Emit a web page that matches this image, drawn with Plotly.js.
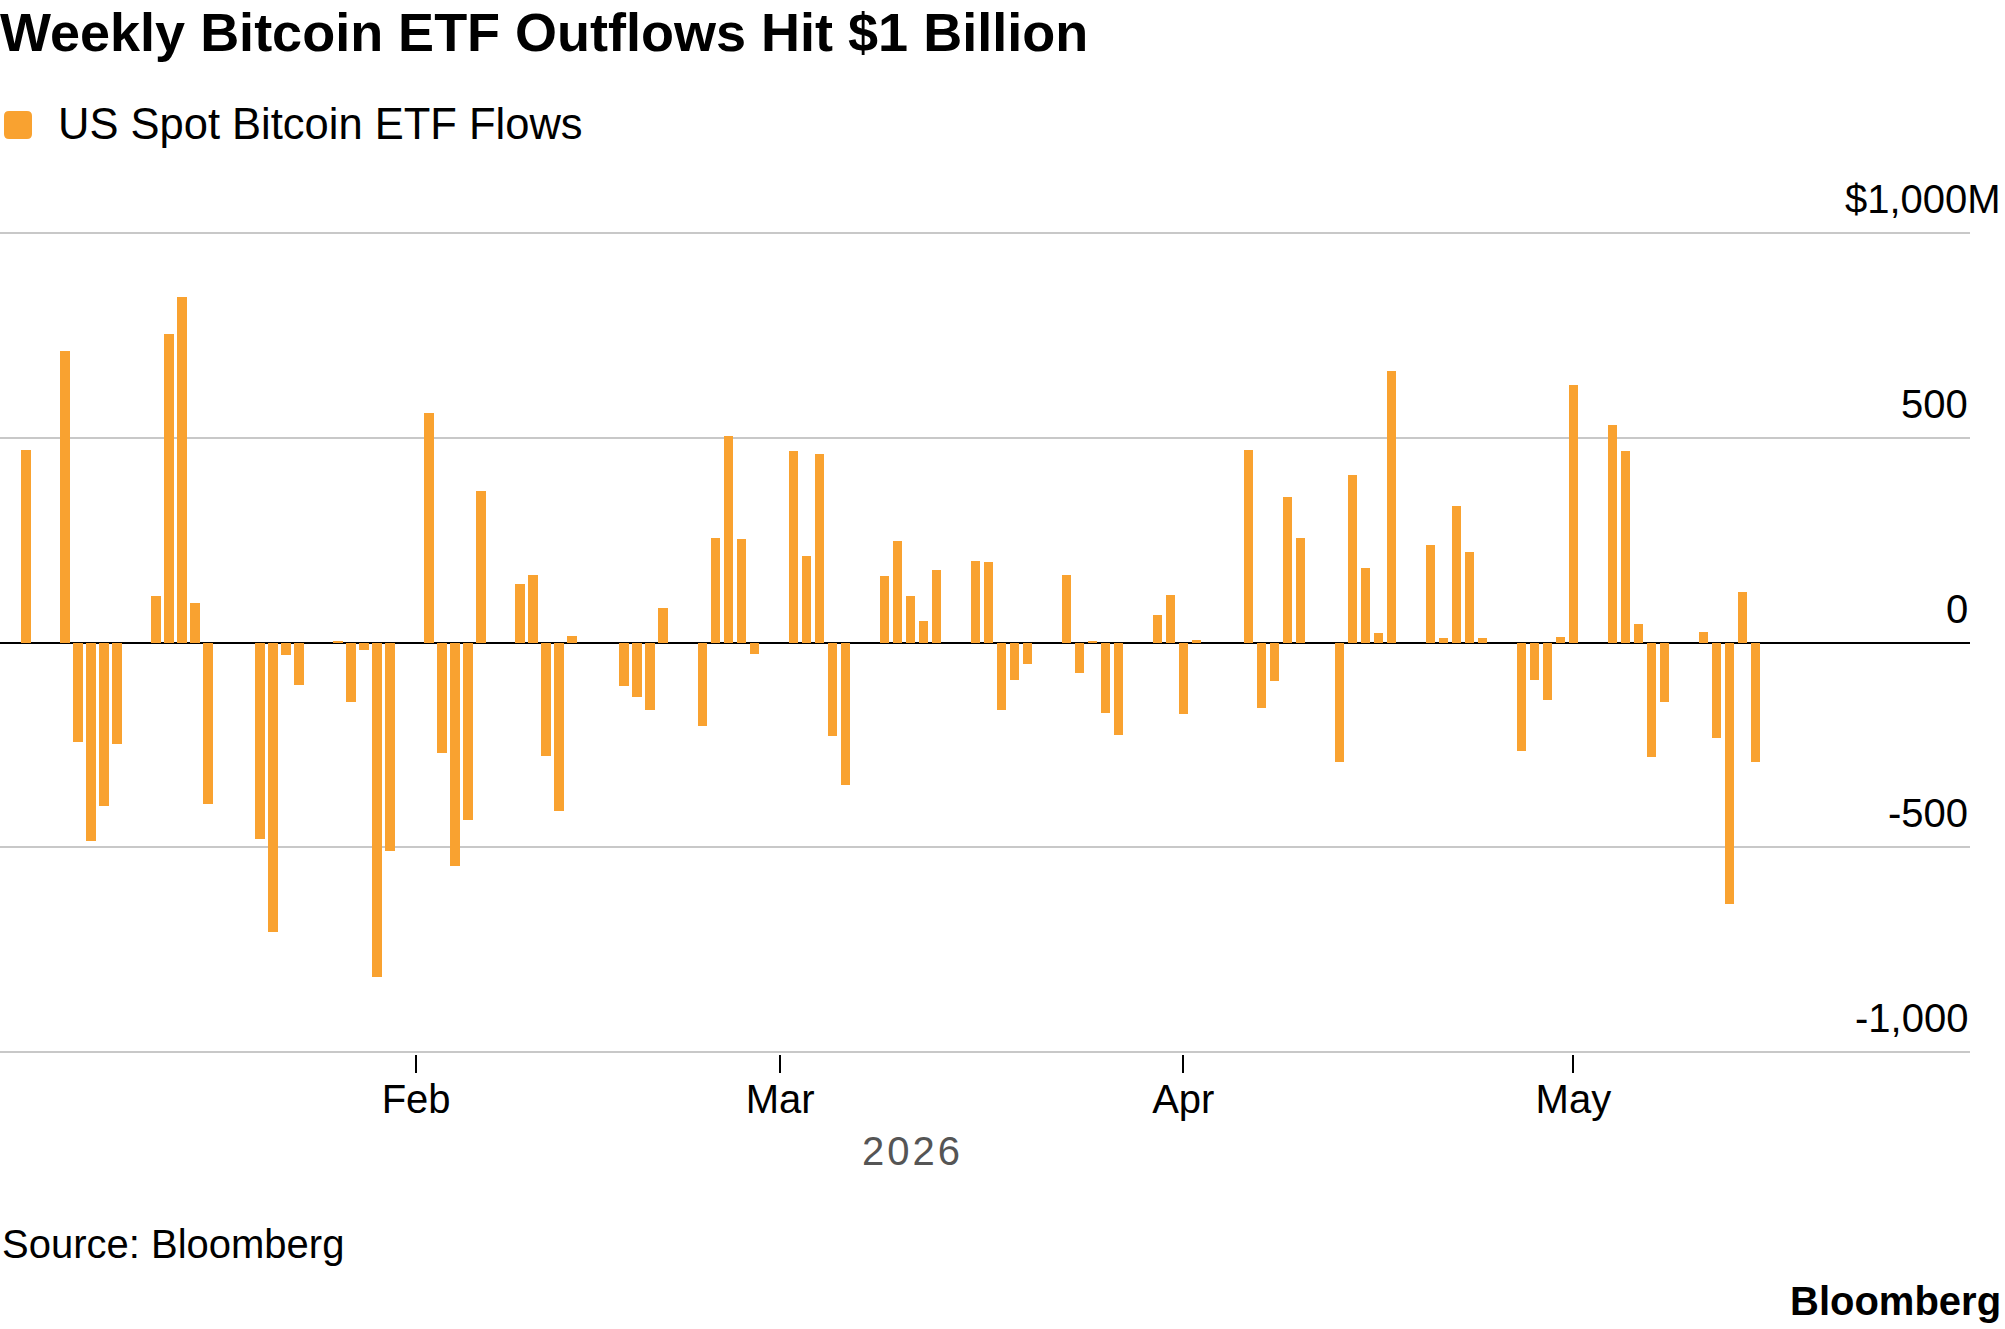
<!DOCTYPE html>
<html>
<head>
<meta charset="utf-8">
<script src="https://cdn.plot.ly/plotly-3.0.1.min.js"></script>
<style>
  html, body { margin: 0; padding: 0; background: #fff; }
  #chart { width: 2005px; height: 1329px; }
</style>
</head>
<body>
<div id="chart"></div>
<script>
// ---- Data ----
const dates = [
  '2026-01-02','2026-01-05','2026-01-06','2026-01-07','2026-01-08','2026-01-09',
  '2026-01-12','2026-01-13','2026-01-14','2026-01-15','2026-01-16',
  '2026-01-20','2026-01-21','2026-01-22','2026-01-23',
  '2026-01-26','2026-01-27','2026-01-28','2026-01-29','2026-01-30',
  '2026-02-02','2026-02-03','2026-02-04','2026-02-05','2026-02-06',
  '2026-02-09','2026-02-10','2026-02-11','2026-02-12','2026-02-13',
  '2026-02-17','2026-02-18','2026-02-19','2026-02-20',
  '2026-02-23','2026-02-24','2026-02-25','2026-02-26','2026-02-27',
  '2026-03-02','2026-03-03','2026-03-04','2026-03-05','2026-03-06',
  '2026-03-09','2026-03-10','2026-03-11','2026-03-12','2026-03-13',
  '2026-03-16','2026-03-17','2026-03-18','2026-03-19','2026-03-20',
  '2026-03-23','2026-03-24','2026-03-25','2026-03-26','2026-03-27',
  '2026-03-30','2026-03-31','2026-04-01','2026-04-02',
  '2026-04-06','2026-04-07','2026-04-08','2026-04-09','2026-04-10',
  '2026-04-13','2026-04-14','2026-04-15','2026-04-16','2026-04-17',
  '2026-04-20','2026-04-21','2026-04-22','2026-04-23','2026-04-24',
  '2026-04-27','2026-04-28','2026-04-29','2026-04-30','2026-05-01',
  '2026-05-04','2026-05-05','2026-05-06','2026-05-07','2026-05-08',
  '2026-05-11','2026-05-12','2026-05-13','2026-05-14','2026-05-15'
];
const flows = [
  470, 711, -243, -486, -399, -249,
  114, 753, 844, 97, -395,
  -480, -708, -30, -103,
  4, -146, -18, -818, -508,
  561, -271, -547, -434, 369,
  143, 164, -277, -411, 15,
  -106, -134, -166, 85,
  -204, 256, 504, 253, -27,
  468, 211, 460, -228, -349,
  162, 249, 113, 52, 177,
  200, 197, -164, -91, -52,
  165, -75, 4, -171, -226,
  67, 115, -175, 5,
  470, -159, -95, 356, 255,
  -292, 409, 183, 24, 663,
  237, 10, 334, 222, 12,
  -264, -91, -140, 13, 628,
  532, 467, 44, -279, -146,
  26, -233, -638, 124, -292
];
const yTickVals = [1000, 500, 0, -500, -1000];
const yTickText = ['$1,000M', '500', '0', '-500', '-1,000'];
const xTickVals = ['2026-02-01', '2026-03-01', '2026-04-01', '2026-05-01'];
const xTickText = ['Feb', 'Mar', 'Apr', 'May'];
const seriesName = 'US Spot Bitcoin ETF Flows';
const titleText = 'Weekly Bitcoin ETF Outflows Hit $1 Billion';
const yearLabel = '2026';
const sourceText = 'Source: Bloomberg';
const brandText = 'Bloomberg';

// ---- Layout geometry ----
const W = 2005, H = 1329;
const M = { l: 0, r: 35, t: 231, b: 275 };
const plotW = W - M.l - M.r, plotH = H - M.t - M.b;
const px2paperX = px => (px - M.l) / plotW;
const px2paperY = py => (H - M.b - py) / plotH;

const FONT = 'Liberation Sans, Arial, Helvetica, sans-serif';
const ORANGE = '#F9A230';

const annotations = [];
yTickVals.forEach((v, i) => {
  const txt = yTickText[i];
  annotations.push({
    xref: 'paper', yref: 'y', x: 1, y: v,
    xanchor: 'right', yanchor: 'bottom',
    xshift: /M$/.test(txt) ? 33 : 0, yshift: 10,
    text: txt, showarrow: false,
    font: { family: FONT, size: 40, color: '#000' }
  });
});
annotations.push({
  xref: 'paper', yref: 'paper', x: px2paperX(56), y: px2paperY(124),
  xanchor: 'left', yanchor: 'middle', text: seriesName, showarrow: false,
  font: { family: FONT, size: 43.5, color: '#000' }
});
annotations.push({
  xref: 'paper', yref: 'paper', x: px2paperX(912), y: px2paperY(1151),
  xanchor: 'center', yanchor: 'middle', text: yearLabel, showarrow: false,
  font: { family: FONT, size: 40, color: '#555555' }
});
annotations.push({
  xref: 'paper', yref: 'paper', x: px2paperX(0), y: px2paperY(1244),
  xanchor: 'left', yanchor: 'middle', text: sourceText, showarrow: false,
  font: { family: FONT, size: 40, color: '#000' }
});
annotations.push({
  xref: 'paper', yref: 'paper', x: px2paperX(2003), y: px2paperY(1301),
  xanchor: 'right', yanchor: 'middle', text: brandText, showarrow: false,
  font: { family: FONT, size: 40, color: '#000', weight: 'bold' }
});

// rounded legend swatch
function roundedRect(x0, y0, x1, y1, r) {
  const X = px2paperX, Y = px2paperY;
  return `M ${X(x0 + r)} ${Y(y0)} L ${X(x1 - r)} ${Y(y0)} Q ${X(x1)} ${Y(y0)} ${X(x1)} ${Y(y0 + r)} ` +
         `L ${X(x1)} ${Y(y1 - r)} Q ${X(x1)} ${Y(y1)} ${X(x1 - r)} ${Y(y1)} ` +
         `L ${X(x0 + r)} ${Y(y1)} Q ${X(x0)} ${Y(y1)} ${X(x0)} ${Y(y1 - r)} ` +
         `L ${X(x0)} ${Y(y0 + r)} Q ${X(x0)} ${Y(y0)} ${X(x0 + r)} ${Y(y0)} Z`;
}

const trace = {
  type: 'bar', x: dates, y: flows, name: seriesName,
  marker: { color: ORANGE, line: { width: 0 } },
  width: 0.72 * 86400000,
  hoverinfo: 'skip'
};

const layout = {
  width: W, height: H,
  margin: M,
  paper_bgcolor: '#fff', plot_bgcolor: '#fff',
  showlegend: false,
  title: {
    text: titleText, xref: 'container', yref: 'container',
    x: 0, xanchor: 'left', y: 1 - 32 / H, yanchor: 'middle',
    pad: { l: 0, t: 0, b: 0, r: 0 },
    font: { family: FONT, size: 54, color: '#000', weight: 'bold' }
  },
  xaxis: {
    type: 'date',
    range: ['2025-12-31', '2026-05-31 12:00'],
    tickmode: 'array', tickvals: xTickVals, ticktext: xTickText,
    ticks: 'outside', ticklen: 18, tickwidth: 2, tickcolor: '#000',
    ticklabelstandoff: -8,
    showgrid: false, showline: false, zeroline: false,
    tickfont: { family: FONT, size: 40, color: '#000' },
    fixedrange: true
  },
  yaxis: {
    range: [-1005, 1005],
    tickmode: 'array', tickvals: yTickVals,
    showticklabels: false, ticks: '',
    showgrid: true, gridcolor: '#c8c8c8', gridwidth: 2,
    zeroline: true, zerolinecolor: '#000', zerolinewidth: 2,
    showline: false, fixedrange: true
  },
  shapes: [{
    type: 'path', xref: 'paper', yref: 'paper',
    path: roundedRect(4, 111, 32, 139, 5),
    fillcolor: ORANGE, line: { width: 0 }
  }],
  annotations: annotations,
  bargap: 0
};

Plotly.newPlot('chart', [trace], layout, { staticPlot: true, displayModeBar: false }).then(() => {
  document.querySelectorAll('.annotation-text').forEach(t => {
    if (t.textContent === yearLabel) t.style.letterSpacing = '3px';
  });
});
</script>
</body>
</html>
